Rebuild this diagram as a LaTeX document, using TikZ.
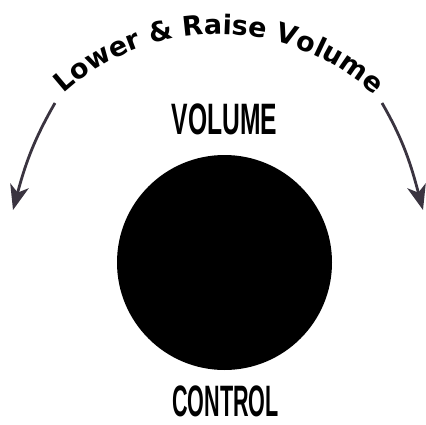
\documentclass[tikz,border=0pt]{standalone}
\usepackage{fontspec}
\usepackage{tikz}
\usepackage{xcolor}
\usetikzlibrary{arrows.meta,calc,decorations.text}
\newfontfamily\arcfont{DejaVu Sans}
\newfontfamily\decofont{Liberation Sans}
\definecolor{ink}{HTML}{000000}
\definecolor{arrowink}{HTML}{3A3440}
\tikzset{
  knob/.style={circle, fill=ink, draw=none, minimum size=215pt, inner sep=0pt},
  label/.style={font=\decofont\bfseries\fontsize{44}{44}\selectfont, text=ink,
                inner sep=0pt, anchor=center},
  turn/.style={-{Stealth[length=25pt,width=19pt,inset=7pt]}, line width=2.8pt, draw=arrowink}
}
\begin{document}
\begin{tikzpicture}[x=1pt,y=1pt]
    \useasboundingbox (0,0) rectangle (426,424);
    % knob and its two words
    \node[knob] (knob) at (224.5,161.5) {};
    \node[label,xscale=0.56] (top) at (224.5,305) {VOLUME};
    \node[label,xscale=0.49] (bottom) at (225.5,23) {CONTROL};

    % text on the arc
    \coordinate (hub) at (218,160);
    \begin{scope}
      \arcfont\bfseries\fontsize{27}{27}\selectfont
      \path[decorate,decoration={text along path,
            text={Lower {\&} Raise Volume},
            text align={fit to path}}]
        ($(hub)+(132.2:230)$) arc[start angle=132.2, end angle=47.8, radius=230];
    \end{scope}

    % turning arrows
    \coordinate (lowstart) at (55,321);
    \coordinate (lowend) at (13,214);
    \coordinate (raisestart) at (382,321);
    \coordinate (raiseend) at (423,214);
    \draw[turn] (lowstart) to[out=240,in=75] (lowend);
    \draw[turn] (raisestart) to[out=300,in=105] (raiseend);
  \end{tikzpicture}
\end{document}
